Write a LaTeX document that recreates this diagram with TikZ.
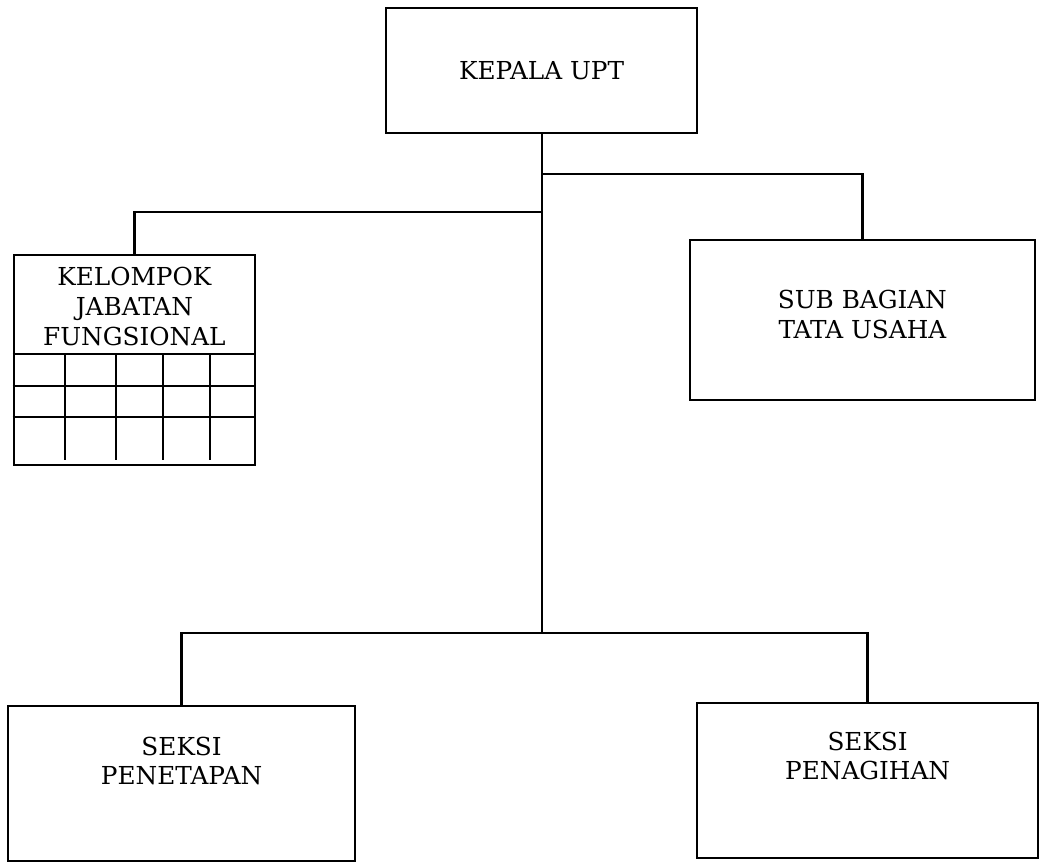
\documentclass[tikz,border=0pt]{standalone}
\usepackage{fontspec}
\setmainfont{DejaVu Serif}
\begin{document}
\begin{tikzpicture}[
    box/.style={draw, line width=1.7pt, minimum width=#1, inner sep=0pt},
    txt/.style={align=center, font=\fontsize{17.6}{21.3}\selectfont},
    line/.style={line width=1.7pt},
    grid/.style={line width=1.5pt}
]
    \useasboundingbox (0,0) rectangle (26.1,21.625);

    % Kepala UPT at top
    \node[box=7.775cm, minimum height=3.125cm, txt] (kepala) at (13.54,19.86) {KEPALA UPT};

    % Sub bagian and kelompok jabatan fungsional
    \node[box=8.625cm, minimum height=4cm] (subbag) at (21.56,13.625) {};
    \node[txt] (subbag-text) at (21.56,13.76) {SUB BAGIAN\\TATA USAHA};
    \node[box=6.025cm, minimum height=5.25cm] (kjf) at (3.36,12.625) {};
    \node[txt] (kjf-text) at (3.36,13.96) {KELOMPOK\\JABATAN\\FUNGSIONAL};

    % Grid under the header
    \foreach \y in {12.775, 11.975, 11.2}
        \draw[grid] (kjf.west |- 0,\y) -- (kjf.east |- 0,\y);
    \foreach \x in {1.625, 2.9, 4.075, 5.25}
        \draw[grid] (\x,12.775) -- (\x,10.125);

    % Seksi at bottom
    \node[box=8.675cm, minimum height=3.875cm] (penetapan) at (4.54,2.04) {};
    \node[txt] (penetapan-text) at (4.54,2.6) {SEKSI\\PENETAPAN};
    \node[box=8.525cm, minimum height=3.875cm] (penagihan) at (21.69,2.11) {};
    \node[txt] (penagihan-text) at (21.69,2.725) {SEKSI\\PENAGIHAN};

    % Connectors
    \coordinate (jr) at (13.55,17.275);
    \coordinate (jl) at (13.55,16.325);
    \coordinate (jb) at (13.55,5.8);
    \draw[line] (kepala.south -| jb) -- (jb);
    \draw[line] (jr) -| (subbag);
    \draw[line] (jl) -| (kjf);
    \draw[line] (jb) -| (penetapan);
    \draw[line] (jb) -| (penagihan);
\end{tikzpicture}
\end{document}
